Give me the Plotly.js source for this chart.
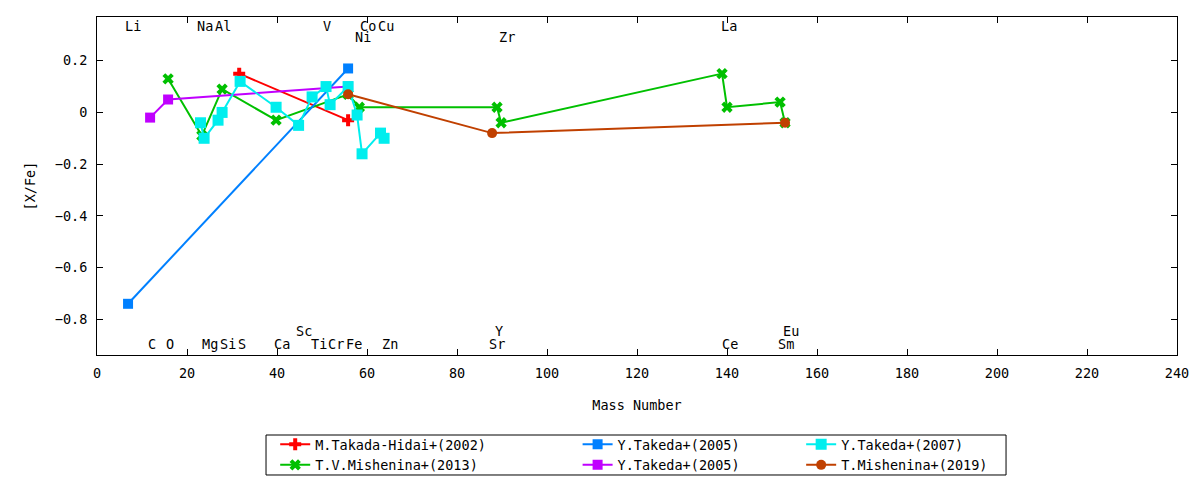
<!DOCTYPE html>
<html>
<head>
<meta charset="utf-8">
<script src="https://cdn.plot.ly/plotly-3.0.1.min.js"></script>
<style>
  body { margin: 0; background: #fff; }
  #chart { width: 1200px; height: 480px; }
</style>
</head>
<body>
<div id="chart"></div>
<script>
// [X/Fe] against mass number, one pair of arrays per study
var takadaHidai2002X = [31.6, 55.8];
var takadaHidai2002Y = [0.15, -0.03];

var mishenina2013X = [15.8, 23.3, 27.8, 39.8, 55.8, 58.3, 88.9, 89.8, 138.9, 140.0, 151.8, 152.9];
var mishenina2013Y = [0.13, -0.09, 0.09, -0.03, 0.07, 0.02, 0.02, -0.04, 0.15, 0.02, 0.04, -0.04];

var takeda2005aX = [6.9, 55.8];
var takeda2005aY = [-0.74, 0.17];

var takeda2005bX = [11.8, 15.8, 55.8];
var takeda2005bY = [-0.02, 0.05, 0.10];

var takeda2007X = [23.0, 23.8, 26.9, 27.8, 31.8, 39.8, 44.8, 47.8, 50.9, 51.8, 55.8, 57.8, 58.9, 63.0, 63.8];
var takeda2007Y = [-0.04, -0.10, -0.03, 0.00, 0.12, 0.02, -0.05, 0.06, 0.10, 0.03, 0.10, -0.01, -0.16, -0.08, -0.10];

var mishenina2019X = [55.8, 87.8, 152.9];
var mishenina2019Y = [0.07, -0.08, -0.04];

// element names written inside the frame
var topNames = ['Li', 'Na', 'Al', 'V', 'Co', 'Cu', 'La'];
var topMass = [8.1, 24.1, 28.0, 51.1, 60.2, 64.2, 140.4];
var top2Names = ['Ni', 'Zr'];
var top2Mass = [59.1, 91.1];
var bottomNames = ['C', 'O', 'Mg', 'Si', 'S', 'Ca', 'Ti', 'Cr', 'Fe', 'Zn', 'Sr', 'Ce', 'Sm'];
var bottomMass = [12.2, 16.3, 25.2, 29.1, 32.2, 41.2, 49.4, 53.2, 57.2, 65.2, 88.9, 140.7, 153.2];
var bottom2Names = ['Sc', 'Y', 'Eu'];
var bottom2Mass = [46.0, 89.4, 154.3];

var FONT = 'DejaVu Sans Mono, monospace';

function series(x, y, name, color, symbol, size, legendId) {
    return {
        x: x, y: y, name: name, type: 'scatter', mode: 'lines+markers',
        line: { color: color, width: 2 },
        marker: { color: color, symbol: symbol, size: size },
        legend: legendId
    };
}

// drawn in the original plotting order; the key is three columns of two
var data = [
    series(takadaHidai2002X, takadaHidai2002Y, 'M.Takada-Hidai+(2002)', '#ff0000', 'cross', 10, 'legend'),
    series(mishenina2013X, mishenina2013Y, 'T.V.Mishenina+(2013)', '#00c000', 'x', 10, 'legend'),
    series(takeda2005aX, takeda2005aY, 'Y.Takeda+(2005)', '#0080ff', 'square', 10, 'legend2'),
    series(takeda2005bX, takeda2005bY, 'Y.Takeda+(2005)', '#c000ff', 'square', 10, 'legend2'),
    series(takeda2007X, takeda2007Y, 'Y.Takeda+(2007)', '#00eeee', 'square', 11, 'legend3'),
    series(mishenina2019X, mishenina2019Y, 'T.Mishenina+(2019)', '#c04000', 'circle', 10, 'legend3')
];

var annotations = [];
function addLabels(names, mass, yv) {
    for (var i = 0; i < names.length; i++) {
        annotations.push({
            x: mass[i], y: yv, xref: 'x', yref: 'y', text: names[i],
            showarrow: false, xanchor: 'center', yanchor: 'middle',
            font: { family: FONT, size: 13.5, color: '#000' }
        });
    }
}
addLabels(topNames, topMass, 0.333);
addLabels(top2Names, top2Mass, 0.293);
addLabels(bottomNames, bottomMass, -0.897);
addLabels(bottom2Names, bottom2Mass, -0.845);

var axisStyle = {
    showline: true, mirror: 'ticks', linecolor: '#000', linewidth: 1,
    ticks: 'inside', ticklen: 6, tickcolor: '#000',
    showgrid: false, zeroline: false, automargin: false,
    tickfont: { family: FONT, size: 13.5, color: '#000' }
};

function keyColumn(x) {
    return {
        orientation: 'v', x: x, xanchor: 'left', y: -0.219, yanchor: 'top',
        bgcolor: 'rgba(0,0,0,0)', borderwidth: 0,
        font: { family: FONT, size: 13.5, color: '#000' },
        tracegroupgap: 0
    };
}

var layout = {
    width: 1200, height: 480,
    margin: { l: 97, r: 23, t: 17, b: 125, autoexpand: false },
    paper_bgcolor: '#fff', plot_bgcolor: '#fff',
    font: { family: FONT, size: 13.5, color: '#000' },
    xaxis: Object.assign({}, axisStyle, {
        range: [0, 240], dtick: 20, tick0: 0,
        ticklabelstandoff: 6,
        title: { text: 'Mass Number', font: { family: FONT, size: 13.5 }, standoff: 20 }
    }),
    yaxis: Object.assign({}, axisStyle, {
        range: [-0.938, 0.369], dtick: 0.2, tick0: 0,
        ticklabelstandoff: 6,
        title: { text: '[X/Fe]', font: { family: FONT, size: 13.5 }, standoff: 16 }
    }),
    showlegend: true,
    legend: keyColumn(0.165),
    legend2: keyColumn(0.445),
    legend3: keyColumn(0.652),
    // frame round the key
    shapes: [{
        type: 'rect', xref: 'paper', yref: 'paper',
        x0: 0.1565, x1: 0.8417, y0: -0.2367, y1: -0.355,
        line: { color: '#000', width: 1 }, fillcolor: 'rgba(0,0,0,0)'
    }],
    annotations: annotations
};

Plotly.newPlot('chart', data, layout, { displayModeBar: false, staticPlot: true });
</script>
</body>
</html>
